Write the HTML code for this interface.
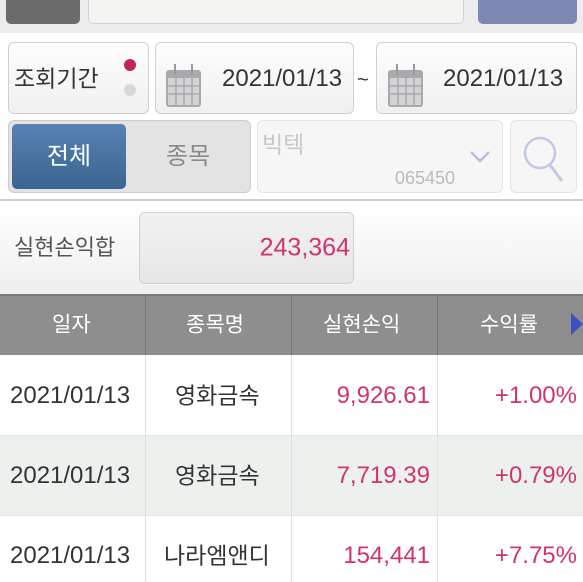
<!DOCTYPE html>
<html><head><meta charset="utf-8">
<style>
*{box-sizing:border-box;margin:0;padding:0}
body{width:583px;height:582px;overflow:hidden;background:#fff;font-family:"Liberation Sans","Noto Sans CJK KR",sans-serif;position:relative}
.a{position:absolute}
.box{position:absolute;border:1px solid #d0d0d0;border-radius:6px;background:linear-gradient(#fdfdfd,#f0f0f0)}
.t{position:absolute;white-space:nowrap;line-height:1;transform:translateY(-50%)}
.cell{position:absolute;font-size:24px;color:#333;white-space:nowrap;line-height:1;transform:translateY(-50%)}
.ko{font-size:23px}
.red{color:#d0336e}
</style></head><body>
<div class="a" style="left:0;top:0;width:583px;height:33px;background:#ececec"></div>
<div class="a" style="left:6px;top:-6px;width:74px;height:30px;background:#6b6b6b;border-radius:5px"></div>
<div class="a" style="left:88px;top:-6px;width:376px;height:30px;background:#f4f5f1;border:1px solid #d3d3d3;border-radius:5px"></div>
<div class="a" style="left:478px;top:-6px;width:99px;height:30px;background:#7d87b3;border-radius:5px"></div>

<div class="box" style="left:8px;top:42px;width:141px;height:72px"></div>
<div class="t" style="left:14px;top:79px;font-size:23px;color:#333">조회기간</div>
<div class="a" style="left:124px;top:59px;width:12px;height:12px;border-radius:50%;background:#c2255c"></div>
<div class="a" style="left:124px;top:84px;width:12px;height:12px;border-radius:50%;background:#d8d8dc"></div>

<div class="box" style="left:155px;top:42px;width:199px;height:72px"></div>
<div class="box" style="left:376px;top:42px;width:201px;height:72px"></div>
<svg class="a" style="left:165px;top:63px" width="37" height="45"><rect x="1" y="7" width="35" height="37" rx="3" fill="#a9a9ad"/><rect x="3" y="15" width="31" height="27" fill="#d3d3d6"/><g stroke="#a9a9ad" stroke-width="1.5"><line x1="3" y1="23" x2="34" y2="23"/><line x1="3" y1="31" x2="34" y2="31"/><line x1="11" y1="15" x2="11" y2="42"/><line x1="19" y1="15" x2="19" y2="42"/><line x1="27" y1="15" x2="27" y2="42"/></g><rect x="9" y="1" width="2" height="11" fill="#999"/><rect x="26" y="1" width="2" height="11" fill="#999"/></svg>
<svg class="a" style="left:387px;top:63px" width="37" height="45"><rect x="1" y="7" width="35" height="37" rx="3" fill="#a9a9ad"/><rect x="3" y="15" width="31" height="27" fill="#d3d3d6"/><g stroke="#a9a9ad" stroke-width="1.5"><line x1="3" y1="23" x2="34" y2="23"/><line x1="3" y1="31" x2="34" y2="31"/><line x1="11" y1="15" x2="11" y2="42"/><line x1="19" y1="15" x2="19" y2="42"/><line x1="27" y1="15" x2="27" y2="42"/></g><rect x="9" y="1" width="2" height="11" fill="#999"/><rect x="26" y="1" width="2" height="11" fill="#999"/></svg>
<div class="t" style="left:222px;top:79px;font-size:24px;color:#333">2021/01/13</div>
<div class="t" style="left:357px;top:80px;font-size:20px;color:#333">~</div>
<div class="t" style="left:443px;top:79px;font-size:24px;color:#333">2021/01/13</div>

<div class="a" style="left:8px;top:120px;width:243px;height:73px;background:#e3e3e3;border:1px solid #ccc;border-radius:6px"></div>
<div class="a" style="left:12px;top:124px;width:114px;height:65px;background:linear-gradient(#5682b3,#3b6590);border-radius:5px;color:#fff;font-size:24px;text-align:center;line-height:65px">전체</div>
<div class="t" style="left:166px;top:157px;font-size:24px;color:#8a8a8a">종목</div>
<div class="a" style="left:257px;top:120px;width:246px;height:73px;background:#f6f6f6;border:1px solid #e3e3e3;border-radius:6px"></div>
<div class="t" style="left:262px;top:145px;font-size:23px;color:#c8c8c8">빅텍</div>
<div class="t" style="left:395px;top:178px;font-size:18px;color:#bbb">065450</div>
<svg class="a" style="left:469px;top:150px" width="22" height="14"><polyline points="2,2 11,11 20,2" fill="none" stroke="#b7bfdc" stroke-width="2.5"/></svg>
<div class="a" style="left:510px;top:120px;width:67px;height:73px;background:#f6f6f6;border:1px solid #e3e3e3;border-radius:6px"></div>
<svg class="a" style="left:522px;top:134px" width="42" height="50"><circle cx="18" cy="19" r="15" fill="none" stroke="#c2c8e6" stroke-width="2.5"/><line x1="28" y1="31" x2="40" y2="47" stroke="#c2c8e6" stroke-width="3"/></svg>

<div class="a" style="left:0;top:199px;width:583px;height:95px;border-top:2px solid #cfcfcf;background:linear-gradient(#fff,#efefef)"></div>
<div class="t" style="left:14px;top:248px;font-size:22px;color:#555">실현손익합</div>
<div class="box" style="left:139px;top:212px;width:215px;height:72px;background:linear-gradient(#f2f2f2,#e6e6e6)"></div>
<div class="t red" style="right:233px;top:248px;font-size:25px">243,364</div>

<div class="a" style="left:0;top:294px;width:583px;height:61px;background:#8e8e8e;border-top:2px solid #777"></div>
<div class="a" style="left:145px;top:294px;width:1px;height:61px;background:#777"></div>
<div class="a" style="left:291px;top:294px;width:1px;height:61px;background:#777"></div>
<div class="a" style="left:437px;top:294px;width:1px;height:61px;background:#777"></div>
<div class="t" style="left:52px;top:325px;font-size:21px;color:#fff">일자</div>
<div class="t" style="left:186px;top:325px;font-size:21px;color:#fff">종목명</div>
<div class="t" style="left:323px;top:325px;font-size:21px;color:#fff">실현손익</div>
<div class="t" style="left:480px;top:325px;font-size:21px;color:#fff">수익률</div>
<svg class="a" style="left:571px;top:313px" width="12" height="22"><polygon points="0,0 12,11 0,22" fill="#3d4fc4"/></svg>

<div class="a" style="left:0;top:355px;width:583px;height:81px;background:#fff;border-bottom:1px solid #e3e3e3"></div>
<div class="a" style="left:0;top:436px;width:583px;height:80px;background:#edf1ed;border-bottom:1px solid #e3e3e3"></div>
<div class="a" style="left:0;top:517px;width:583px;height:65px;background:#fff"></div>
<div class="a" style="left:145px;top:355px;width:1px;height:227px;background:#e0e0e0"></div>
<div class="a" style="left:291px;top:355px;width:1px;height:227px;background:#e0e0e0"></div>
<div class="a" style="left:437px;top:355px;width:1px;height:227px;background:#e0e0e0"></div>

<div class="cell" style="left:10px;top:396px">2021/01/13</div>
<div class="cell ko" style="left:175px;top:396px">영화금속</div>
<div class="cell red" style="right:153px;top:396px">9,926.61</div>
<div class="cell red" style="right:6px;top:396px">+1.00%</div>

<div class="cell" style="left:10px;top:476px">2021/01/13</div>
<div class="cell ko" style="left:175px;top:476px">영화금속</div>
<div class="cell red" style="right:153px;top:476px">7,719.39</div>
<div class="cell red" style="right:6px;top:476px">+0.79%</div>

<div class="cell" style="left:10px;top:556px">2021/01/13</div>
<div class="cell ko" style="left:164px;top:556px">나라엠앤디</div>
<div class="cell red" style="right:153px;top:556px">154,441</div>
<div class="cell red" style="right:6px;top:556px">+7.75%</div>
</body></html>
